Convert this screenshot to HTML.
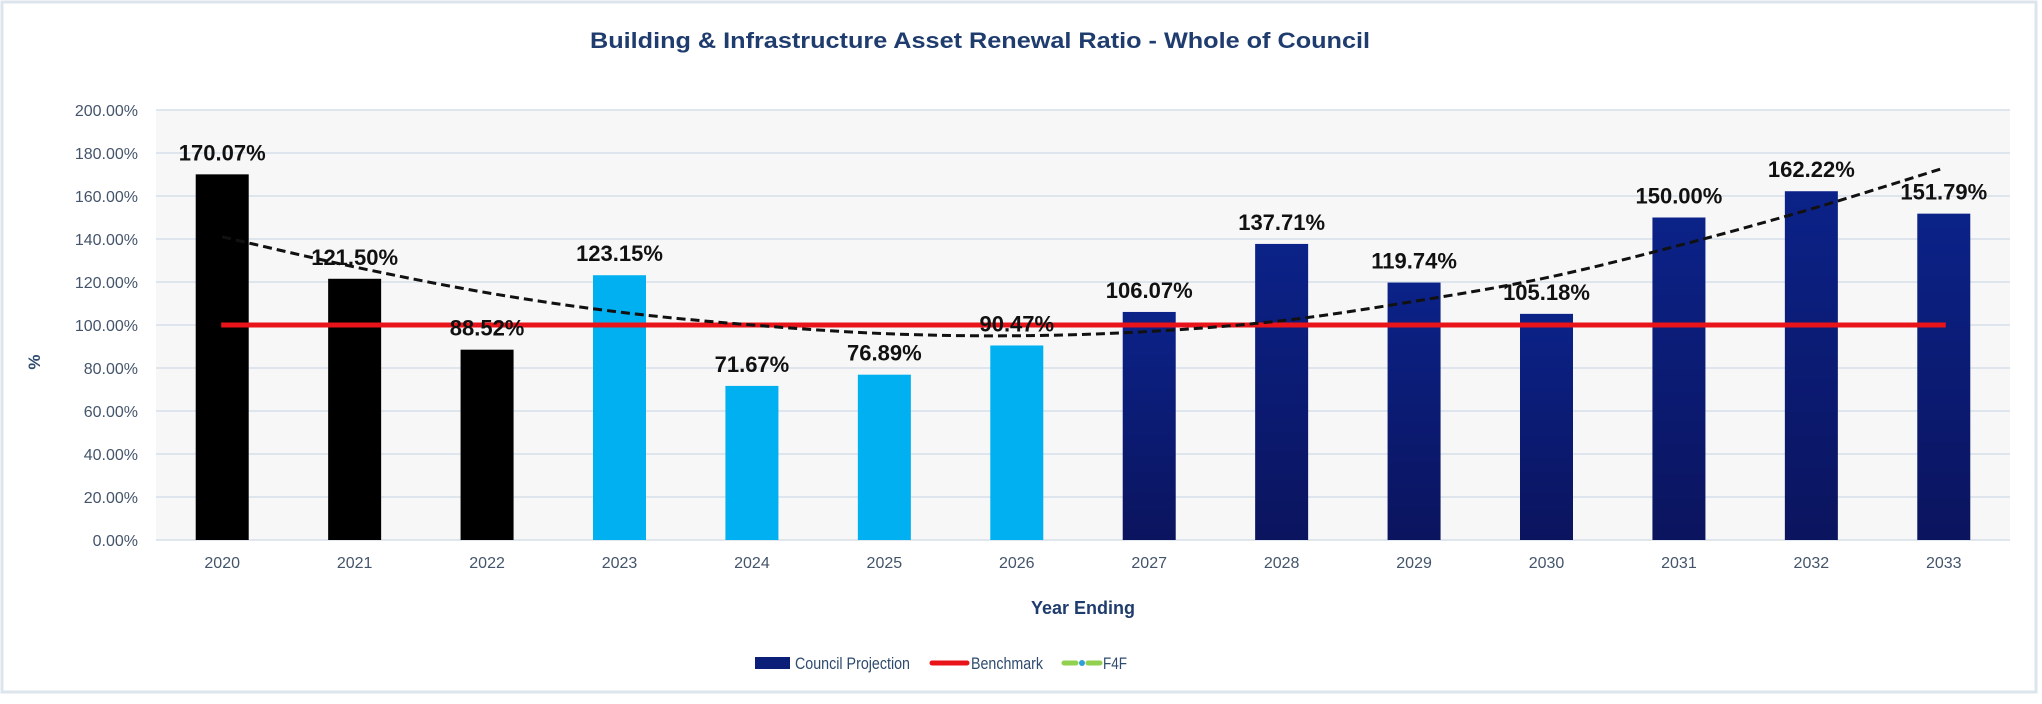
<!DOCTYPE html>
<html><head><meta charset="utf-8">
<style>
html,body{margin:0;padding:0;background:#fff;}
body{width:2042px;height:699px;overflow:hidden;font-family:"Liberation Sans",Arial,sans-serif;}
</style></head>
<body>
<svg id="chart" width="2042" height="699" viewBox="0 0 2042 699" xmlns="http://www.w3.org/2000/svg">
<defs>
<linearGradient id="navy" x1="0" y1="0" x2="0" y2="1">
<stop offset="0" stop-color="#0b2288"/><stop offset="1" stop-color="#0b145e"/>
</linearGradient>
</defs>
<rect x="0" y="0" width="2042" height="699" fill="#fff"/>
<rect x="2" y="2" width="2034" height="690" fill="none" stroke="#dce4ec" stroke-width="3"/>
<rect x="156" y="110" width="1854" height="430" fill="#f7f7f7"/>
<text x="980" y="48" text-anchor="middle" font-size="22" font-weight="bold" fill="#1f3c6e" textLength="780" lengthAdjust="spacingAndGlyphs">Building  &amp; Infrastructure  Asset Renewal Ratio - Whole of Council</text>
<g id="grid"></g><g id="bars"></g><g id="bench"></g><g id="trend"></g><g id="labels"></g><g id="axes"></g>
<text x="40" y="362" text-anchor="middle" font-size="17" font-weight="bold" fill="#2e4a6e" transform="rotate(-90 40 362)">%</text>
<text x="1083" y="614" text-anchor="middle" font-size="18" font-weight="bold" fill="#1f3c6e">Year Ending</text>
<g>
<g>
<rect x="755" y="657" width="35" height="12" fill="#0b1e78"/>
<text x="795" y="669" font-size="17" fill="#2e4a6e" textLength="115" lengthAdjust="spacingAndGlyphs">Council Projection</text></g>
<g>
<line x1="932" y1="663" x2="967" y2="663" stroke="#e8141a" stroke-width="5" stroke-linecap="round"/>
<text x="971" y="669" font-size="17" fill="#2e4a6e" textLength="72" lengthAdjust="spacingAndGlyphs">Benchmark</text></g>
<g>
<line x1="1064" y1="663" x2="1076" y2="663" stroke="#92d050" stroke-width="5" stroke-linecap="round"/>
<circle cx="1082" cy="663" r="3" fill="#2f9fd8"/>
<line x1="1088" y1="663" x2="1100" y2="663" stroke="#92d050" stroke-width="5" stroke-linecap="round"/>
<text x="1103" y="669" font-size="17" fill="#2e4a6e" textLength="24" lengthAdjust="spacingAndGlyphs">F4F</text></g>
</g>
</svg>
<script>
const categories=["2020","2021","2022","2023","2024","2025","2026","2027","2028","2029","2030","2031","2032","2033"];
const values=[170.07,121.50,88.52,123.15,71.67,76.89,90.47,106.07,137.71,119.74,105.18,150.00,162.22,151.79];
const valueLabels=["170.07%","121.50%","88.52%","123.15%","71.67%","76.89%","90.47%","106.07%","137.71%","119.74%","105.18%","150.00%","162.22%","151.79%"];
const trendValues=[141,127,115,106,100,96,95,97,102,111,122,137,154,173];
const benchmark=100;
const yTicks=[0,20,40,60,80,100,120,140,160,180,200];
const yTickLabels=["0.00%","20.00%","40.00%","60.00%","80.00%","100.00%","120.00%","140.00%","160.00%","180.00%","200.00%"];
const periodType=["a","a","a","c","c","c","c","p","p","p","p","p","p","p"];

const NS="http://www.w3.org/2000/svg";
const L=156,R=2010,T=110,B=540,yMax=200;
const step=(R-L)/categories.length, bw=53;
const y=v=>B-(v/yMax)*(B-T);
const xc=i=>L+step*(i+0.5);
function mk(tag,attrs,parent){const e=document.createElementNS(NS,tag);for(const k in attrs)e.setAttribute(k,attrs[k]);parent.appendChild(e);return e;}
const g=id=>document.getElementById(id);

yTicks.forEach((t,i)=>{
  const ln=mk("line",{x1:L,x2:R,y1:y(t),y2:y(t),stroke:"#d6dfe9","stroke-width":1.5},g("grid"));
  
  
  const tx=mk("text",{x:138,y:y(t)+6,"text-anchor":"end","font-size":16,fill:"#44546a"},g("axes"));
  tx.textContent=yTickLabels[i];
  
  
});
const colors={a:"#000000",c:"#00b0f0",p:"url(#navy)"};
categories.forEach((c,i)=>{
  const r=mk("rect",{x:xc(i)-bw/2,y:y(values[i]),width:bw,height:B-y(values[i]),fill:colors[periodType[i]]},g("bars"));
  
  
  const tx=mk("text",{x:xc(i),y:y(values[i])-14,"text-anchor":"middle","font-size":22,"font-weight":"bold",fill:"#111"},g("labels"));
  tx.textContent=valueLabels[i];
  
  
  const xl=mk("text",{x:xc(i),y:568,"text-anchor":"middle","font-size":16,fill:"#44546a"},g("axes"));
  xl.textContent=c;
  
  
});
const bl=mk("line",{x1:xc(0)-1,x2:xc(categories.length-1)+2,y1:y(benchmark),y2:y(benchmark),stroke:"#e8141a","stroke-width":5},g("bench"));


const pts=trendValues.map((v,i)=>[xc(i),y(v)]);
let d="M"+pts[0][0]+","+pts[0][1];
for(let i=0;i<pts.length-1;i++){
  const p0=pts[Math.max(0,i-1)],p1=pts[i],p2=pts[i+1],p3=pts[Math.min(pts.length-1,i+2)];
  d+=" C"+(p1[0]+(p2[0]-p0[0])/6)+","+(p1[1]+(p2[1]-p0[1])/6)+" "+(p2[0]-(p3[0]-p1[0])/6)+","+(p2[1]-(p3[1]-p1[1])/6)+" "+p2[0]+","+p2[1];
}
const tp=mk("path",{d:d,fill:"none",stroke:"#111","stroke-width":3,"stroke-dasharray":"9,5"},g("trend"));


</script>
</body></html>
